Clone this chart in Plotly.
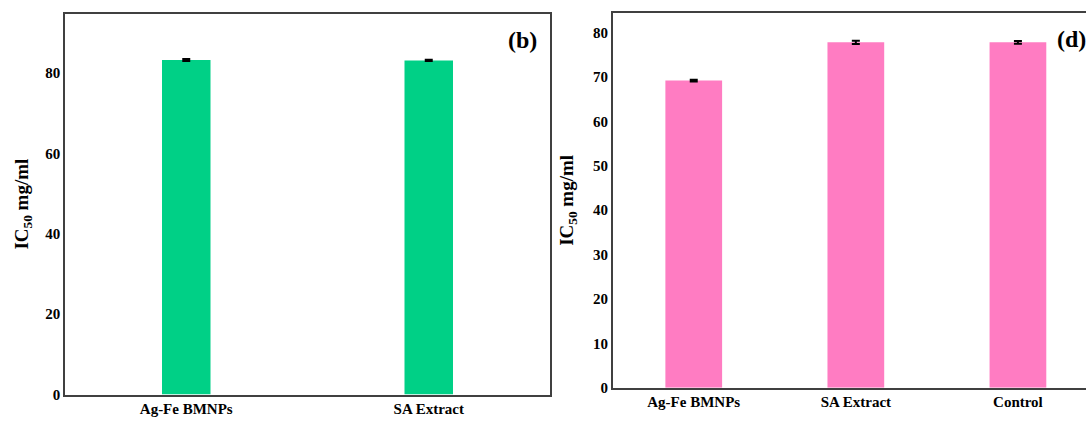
import plotly.graph_objects as go

# Panel (b)
cats_b = ["Ag-Fe BMNPs", "SA Extract"]
vals_b = [83.2, 83.1]
err_b = [0.25, 0.15]

# Panel (d)
cats_d = ["Ag-Fe BMNPs", "SA Extract", "Control"]
vals_d = [69.2, 77.8, 77.8]
err_d = [0.2, 0.35, 0.3]

yticks_b = [0, 20, 40, 60, 80]
yticks_d = [0, 10, 20, 30, 40, 50, 60, 70, 80]

W, H = 1086, 433
FONT = "Liberation Serif"
AXC = "#404040"

fig = go.Figure()
fig.add_trace(go.Bar(
    x=cats_b, y=vals_b, width=0.2, marker=dict(color="rgb(0,208,134)", line=dict(width=0)),
    error_y=dict(type="data", array=err_b, color="black", thickness=2, width=4),
    xaxis="x", yaxis="y", showlegend=False))
fig.add_trace(go.Bar(
    x=cats_d, y=vals_d, width=0.35, marker=dict(color="rgb(255,124,194)", line=dict(width=0)),
    error_y=dict(type="data", array=err_d, color="black", thickness=2, width=4),
    xaxis="x2", yaxis="y2", showlegend=False))

tickfont = dict(family=FONT, size=15, color="black", weight="bold")
titlefont = dict(family=FONT, size=19, color="black", weight="bold")

fig.update_layout(
    width=W, height=H, autosize=False,
    margin=dict(l=0, r=0, t=0, b=0),
    paper_bgcolor="white", plot_bgcolor="white",
    font=dict(family=FONT),
    xaxis=dict(domain=[65 / W, 550 / W], anchor="y", type="category", range=[-0.5, 1.5],
               showline=True, linecolor=AXC, linewidth=1.5, mirror=True,
               ticks="", showgrid=False, tickfont=tickfont),
    yaxis=dict(domain=[1 - 402 / H, 1 - 14 / H], anchor="x", range=[0, 94.7],
               tickvals=yticks_b, showline=True, linecolor=AXC, linewidth=1.5, mirror=True,
               ticks="", showgrid=False, zeroline=False, tickfont=tickfont,
               title=dict(text="IC<sub>50</sub> mg/ml", font=titlefont, standoff=12)),
    xaxis2=dict(domain=[612.7 / W, 1.0], anchor="y2", type="category", range=[-0.5, 2.42],
                showline=True, linecolor=AXC, linewidth=1.5, mirror=True,
                ticks="", showgrid=False, tickfont=tickfont),
    yaxis2=dict(domain=[1 - 395 / H, 1 - 13.3 / H], anchor="x2", range=[0, 84.4],
                tickvals=yticks_d, showline=True, linecolor=AXC, linewidth=1.5, mirror=False,
                ticks="", showgrid=False, zeroline=False, tickfont=tickfont,
                title=dict(text="IC<sub>50</sub> mg/ml", font=titlefont, standoff=14)),
    annotations=[
        dict(text="<b>(b)</b>", x=522 / W, y=1 - 41 / H, xref="paper", yref="paper",
             showarrow=False, font=dict(family=FONT, size=24, color="black"),
             xanchor="center", yanchor="middle"),
        dict(text="<b>(d)</b>", x=1055 / W, y=1 - 40 / H, xref="paper", yref="paper",
             showarrow=False, font=dict(family=FONT, size=24, color="black"),
             xanchor="left", yanchor="middle"),
    ],
)

fig.write_html("out.html", config={"displayModeBar": False, "responsive": False},
               post_script="document.body.style.margin='0';")
